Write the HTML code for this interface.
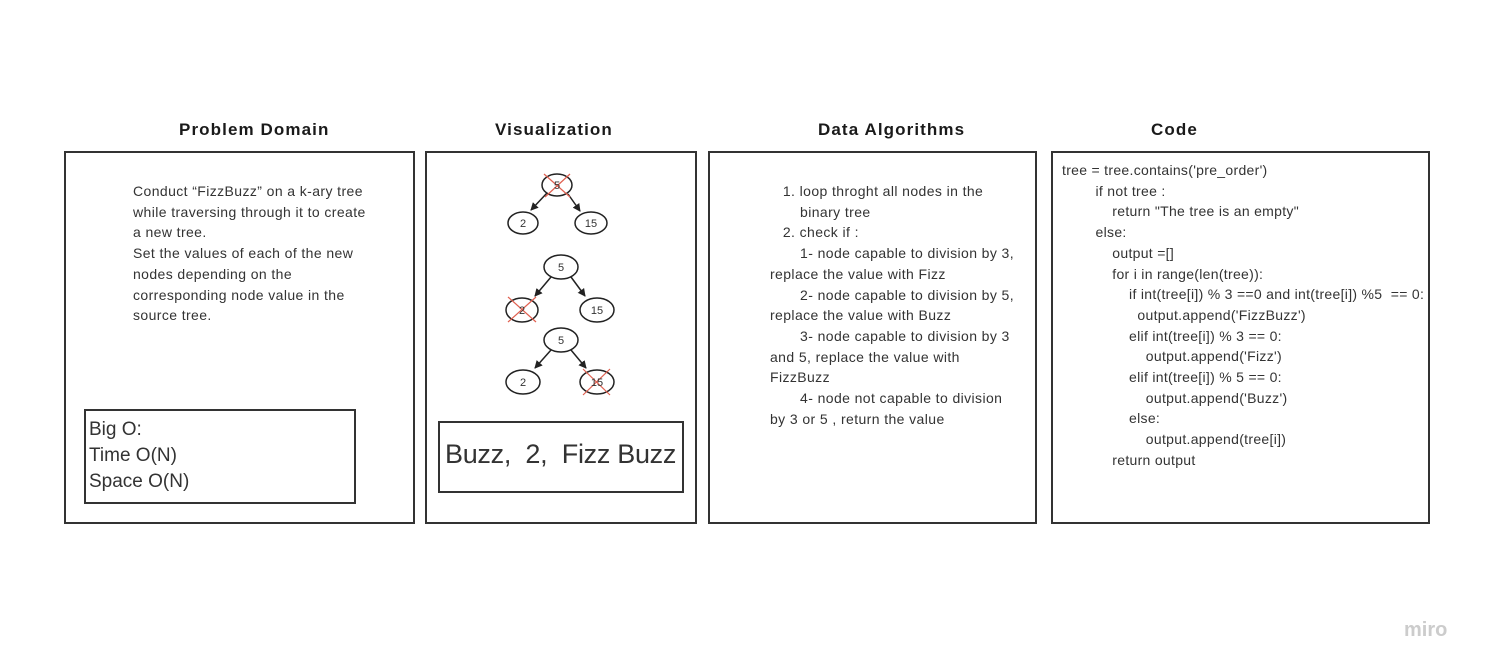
<!DOCTYPE html>
<html><head><meta charset="utf-8"><style>
*{margin:0;padding:0;box-sizing:border-box}
body{width:1486px;height:672px;background:#fff;position:relative;overflow:hidden;font-family:"Liberation Sans",sans-serif;color:#333}
.h{position:absolute;top:120px;font-weight:bold;font-size:17px;color:#1a1a1a;white-space:nowrap;letter-spacing:1.1px}
.box{position:absolute;border:2px solid #333;top:151px;height:373px}
.t{position:absolute;font-size:14px;line-height:20.7px;white-space:pre;color:#333;letter-spacing:0.4px}
</style></head><body>
<div class="h" style="left:179px">Problem Domain</div>
<div class="h" style="left:495px">Visualization</div>
<div class="h" style="left:818px">Data Algorithms</div>
<div class="h" style="left:1151px">Code</div>

<div class="box" style="left:64px;width:351px"></div>
<div class="box" style="left:425px;width:272px"></div>
<div class="box" style="left:708px;width:329px"></div>
<div class="box" style="left:1051px;width:379px"></div>

<div class="t" style="left:133px;top:181px">Conduct “FizzBuzz” on a k-ary tree
while traversing through it to create
a new tree.
Set the values of each of the new
nodes depending on the
corresponding node value in the
source tree.</div>

<div style="position:absolute;left:84px;top:409px;width:272px;height:95px;border:2px solid #333"></div>
<div class="t" style="left:89px;top:417px;font-size:19px;line-height:26px;letter-spacing:0">Big O:
Time O(N)
Space O(N)</div>

<div style="position:absolute;left:438px;top:421px;width:246px;height:72px;border:2px solid #333"></div>
<div class="t" style="left:445px;top:437px;font-size:27px;line-height:34px;letter-spacing:-0.3px">Buzz,  2,  Fizz Buzz</div>

<svg style="position:absolute;left:0;top:0" width="1486" height="672">
<defs><marker id="a" markerWidth="8" markerHeight="8" refX="7" refY="4" orient="auto" markerUnits="userSpaceOnUse"><path d="M0,0 L8,4 L0,8z" fill="#222"/></marker></defs>
<g fill="none" stroke="#222" stroke-width="1.5">
<ellipse cx="557" cy="185" rx="15" ry="11"/><ellipse cx="523" cy="223" rx="15" ry="11"/><ellipse cx="591" cy="223" rx="16" ry="11"/>
<line x1="547" y1="193" x2="531" y2="210" marker-end="url(#a)"/><line x1="568" y1="194" x2="580" y2="211" marker-end="url(#a)"/>
<ellipse cx="561" cy="267" rx="17" ry="12"/><ellipse cx="522" cy="310" rx="16" ry="12"/><ellipse cx="597" cy="310" rx="17" ry="12"/>
<line x1="551" y1="277" x2="535" y2="296" marker-end="url(#a)"/><line x1="571" y1="277" x2="585" y2="296" marker-end="url(#a)"/>
<ellipse cx="561" cy="340" rx="17" ry="12"/><ellipse cx="523" cy="382" rx="17" ry="12"/><ellipse cx="597" cy="382" rx="17" ry="12"/>
<line x1="551" y1="350" x2="535" y2="368" marker-end="url(#a)"/><line x1="571" y1="350" x2="586" y2="368" marker-end="url(#a)"/>
</g>
<g stroke="#e06050" stroke-width="1.2">
<line x1="544" y1="174" x2="570" y2="197"/><line x1="570" y1="174" x2="545" y2="197"/>
<line x1="508" y1="297" x2="536" y2="322"/><line x1="536" y1="297" x2="508" y2="322"/>
<line x1="583" y1="369" x2="610" y2="395"/><line x1="610" y1="369" x2="583" y2="395"/>
</g>
<g font-family="Liberation Sans,sans-serif" font-size="11" fill="#333" text-anchor="middle">
<text x="557" y="189">5</text><text x="523" y="227">2</text><text x="591" y="227">15</text>
<text x="561" y="271">5</text><text x="522" y="314">2</text><text x="597" y="314">15</text>
<text x="561" y="344">5</text><text x="523" y="386">2</text><text x="597" y="386">15</text>
</g>
</svg>

<div class="t" style="left:770px;top:181px">   1. loop throght all nodes in the
       binary tree
   2. check if :
       1- node capable to division by 3,
replace the value with Fizz
       2- node capable to division by 5,
replace the value with Buzz
       3- node capable to division by 3
and 5, replace the value with
FizzBuzz
       4- node not capable to division
by 3 or 5 , return the value</div>

<div class="t" style="left:1062px;top:160px;letter-spacing:0.3px">tree = tree.contains('pre_order')
        if not tree :
            return "The tree is an empty"
        else:
            output =[]
            for i in range(len(tree)):
                if int(tree[i]) % 3 ==0 and int(tree[i]) %5  == 0:
                  output.append('FizzBuzz')
                elif int(tree[i]) % 3 == 0:
                    output.append('Fizz')
                elif int(tree[i]) % 5 == 0:
                    output.append('Buzz')
                else:
                    output.append(tree[i])
            return output</div>

<div style="position:absolute;left:1404px;top:619px;font-size:20px;color:#ccc;font-weight:bold">miro</div>
</body></html>
